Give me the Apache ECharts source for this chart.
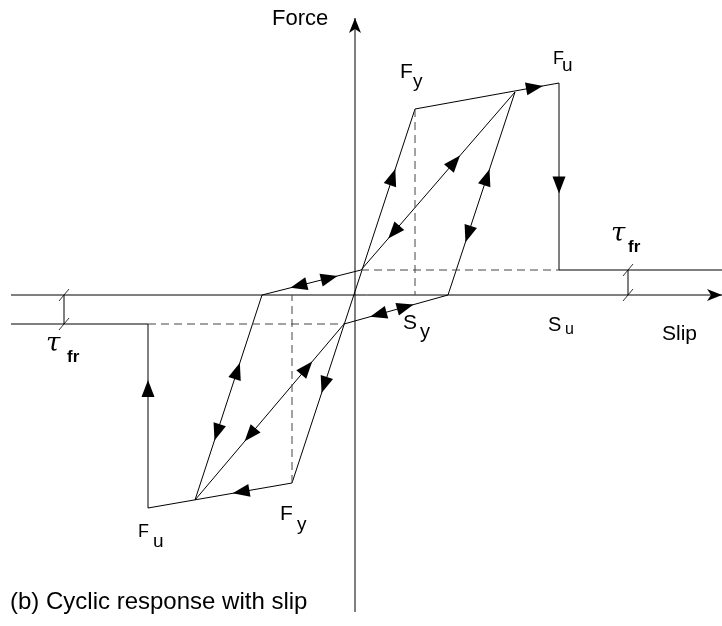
<!DOCTYPE html>
<html>
<head>
<meta charset="utf-8">
<script src="https://cdn.jsdelivr.net/npm/echarts@6/dist/echarts.min.js"></script>
<style>
html, body { margin: 0; padding: 0; background: #fff; }
#chart { width: 722px; height: 626px; }
</style>
</head>
<body>
<div id="chart"></div>
<script>
// Drawing units: slip along x, force along y, origin where the axes cross.
const slipRange = [-355, 367];
const forceRange = [-331, 295];

// Key points of the cyclic slip envelope [slip, force]
const yieldPos = [60, 186];
const peakPos = [160, 203];
const ultPos = [204, 212];
const yieldNeg = [-63, -188];
const peakNeg = [-160, -205];
const ultNeg = [-207, -213];

// Residual friction levels and pinching points
const frictionPos = 25;
const frictionNeg = -29;
const reloadPos = [93, 0];
const reloadNeg = [-93, 0];
const crossPos = [6, 25];
const crossNeg = [-11, -29];

// Axis extents and friction dimension marks
const slipAxisEnds = [-344, 367];
const forceAxisEnds = [-317, 277];
const frictionMarkX = [-291, 273];

const solidPaths = [
  [yieldPos, ultPos, [ultPos[0], frictionPos], [slipAxisEnds[1], frictionPos]],
  [yieldNeg, ultNeg, [ultNeg[0], frictionNeg], [slipAxisEnds[0], frictionNeg]],
  [yieldNeg, yieldPos],
  [peakPos, crossPos, reloadNeg, peakNeg],
  [peakNeg, crossNeg, reloadPos, peakPos],
  [[slipAxisEnds[0], 0], [slipAxisEnds[1], 0]],
  [[0, forceAxisEnds[0]], [0, forceAxisEnds[1]]],
  [[frictionMarkX[0], 0], [frictionMarkX[0], frictionNeg]],
  [[frictionMarkX[1], 0], [frictionMarkX[1], frictionPos]]
];

const dashedPaths = [
  [yieldPos, [yieldPos[0], 0]],
  [crossPos, [ultPos[0], frictionPos]],
  [yieldNeg, [yieldNeg[0], 0]],
  [[ultNeg[0], frictionNeg], crossNeg]
];

// Direction arrows: segment start, segment end, position along the segment
const arrowMarks = [
  [yieldPos, ultPos, 0.83],
  [ultPos, [ultPos[0], frictionPos], 0.545],
  [ultNeg, [ultNeg[0], frictionNeg], 0.65],
  [yieldNeg, ultNeg, 0.354],
  [yieldNeg, yieldPos, 0.818],
  [yieldPos, yieldNeg, 0.738],
  [crossPos, peakPos, 0.607],
  [peakPos, crossPos, 0.787],
  [peakNeg, crossNeg, 0.75],
  [crossNeg, peakNeg, 0.63],
  [reloadPos, peakPos, 0.58],
  [peakPos, reloadPos, 0.70],
  [peakNeg, reloadNeg, 0.63],
  [reloadNeg, peakNeg, 0.67],
  [crossPos, reloadNeg, 0.63],
  [reloadNeg, crossPos, 0.68],
  [reloadPos, crossNeg, 0.67],
  [crossNeg, reloadPos, 0.59]
];

// Axis arrow heads: tip and pointing direction
const axisHeads = [
  [0, forceAxisEnds[1], 0, 1],
  [slipAxisEnds[1], 0, 1, 0]
];

const frictionTicks = [
  [frictionMarkX[0], 0], [frictionMarkX[0], frictionNeg],
  [frictionMarkX[1], frictionPos], [frictionMarkX[1], 0]
];

const SANS = '"Liberation Sans", Arial, Helvetica, sans-serif';
const SERIF = '"DejaVu Serif", "Liberation Serif", serif';

function lineSeries(path, dashed) {
  return {
    type: 'line',
    data: path,
    symbol: 'none',
    silent: true,
    animation: false,
    clip: false,
    lineStyle: dashed
      ? { color: '#444', width: 1, type: [8, 5] }
      : { color: '#000', width: 1 }
  };
}

function arrowItem(params, api) {
  const a = api.coord([api.value(0), api.value(1)]);
  const b = api.coord([api.value(2), api.value(3)]);
  const t = api.value(4);
  const dx = b[0] - a[0], dy = b[1] - a[1];
  const len = Math.sqrt(dx * dx + dy * dy);
  const ux = dx / len, uy = dy / len;
  const nx = -uy, ny = ux;
  const cx = a[0] + dx * t, cy = a[1] + dy * t;
  const L = 17, W = 6.5;
  const tip = [cx + ux * L / 2, cy + uy * L / 2];
  const bx = cx - ux * L / 2, by = cy - uy * L / 2;
  return {
    type: 'polygon',
    shape: { points: [tip, [bx + nx * W, by + ny * W], [bx - nx * W, by - ny * W]] },
    style: { fill: '#000' }
  };
}

function headItem(params, api) {
  const p = api.coord([api.value(0), api.value(1)]);
  const ux = api.value(2), uy = -api.value(3);
  const nx = -uy, ny = ux;
  const L = 15, W = 6, notch = 11;
  return {
    type: 'polygon',
    shape: {
      points: [
        p,
        [p[0] - ux * L + nx * W, p[1] - uy * L + ny * W],
        [p[0] - ux * notch, p[1] - uy * notch],
        [p[0] - ux * L - nx * W, p[1] - uy * L - ny * W]
      ]
    },
    style: { fill: '#000' }
  };
}

function tickItem(params, api) {
  const p = api.coord([api.value(0), api.value(1)]);
  return {
    type: 'line',
    shape: { x1: p[0] - 5, y1: p[1] + 6, x2: p[0] + 5, y2: p[1] - 6 },
    style: { stroke: '#333', lineWidth: 1 }
  };
}

// Text placed by left edge and baseline
function txt(text, left, baseline, size, family, weight, styleName) {
  return {
    type: 'text',
    x: left,
    y: baseline - 0.35 * size,
    silent: true,
    style: {
      text: text,
      fill: '#000',
      fontSize: size,
      fontFamily: family || SANS,
      fontWeight: weight || 'normal',
      fontStyle: styleName || 'normal',
      align: 'left',
      verticalAlign: 'middle',
      textAlign: 'left',
      textVerticalAlign: 'middle'
    }
  };
}

const labels = [
  txt('Force', 272, 27, 22),
  txt('F', 400, 80, 21), txt('y', 413, 88, 19),
  txt('F', 553, 65, 18), txt('u', 562, 72, 19),
  txt('S', 403, 331, 21), txt('y', 420, 339, 20),
  txt('S', 548, 332, 20), txt('u', 565, 335, 16),
  txt('Slip', 662, 342, 21),
  txt('τ', 611, 243, 26, SERIF, 'normal', 'italic'), txt('fr', 628, 253, 17, SANS, 'bold'),
  txt('τ', 46, 353, 26, SERIF, 'normal', 'italic'), txt('fr', 67, 363, 17, SANS, 'bold'),
  txt('F', 138, 538, 18), txt('u', 153, 548, 19),
  txt('F', 280, 522, 21), txt('y', 297, 531, 19),
  txt('(b) Cyclic response with slip', 10, 611, 24)
];

const series = [];
solidPaths.forEach(p => series.push(lineSeries(p, false)));
dashedPaths.forEach(p => series.push(lineSeries(p, true)));
series.push({
  type: 'custom', renderItem: arrowItem, animation: false, silent: true, clip: false,
  encode: { x: [0, 2], y: [1, 3] },
  data: arrowMarks.map(m => [m[0][0], m[0][1], m[1][0], m[1][1], m[2]])
});
series.push({
  type: 'custom', renderItem: headItem, animation: false, silent: true, clip: false,
  encode: { x: 0, y: 1 },
  data: axisHeads
});
series.push({
  type: 'custom', renderItem: tickItem, animation: false, silent: true, clip: false,
  encode: { x: 0, y: 1 },
  data: frictionTicks
});

const chart = echarts.init(document.getElementById('chart'), null, { renderer: 'canvas' });
chart.setOption({
  backgroundColor: '#fff',
  animation: false,
  grid: { left: 0, right: 0, top: 0, bottom: 0, containLabel: false },
  xAxis: { type: 'value', min: slipRange[0], max: slipRange[1], show: false },
  yAxis: { type: 'value', min: forceRange[0], max: forceRange[1], show: false },
  series: series,
  graphic: labels
});
</script>
</body>
</html>
